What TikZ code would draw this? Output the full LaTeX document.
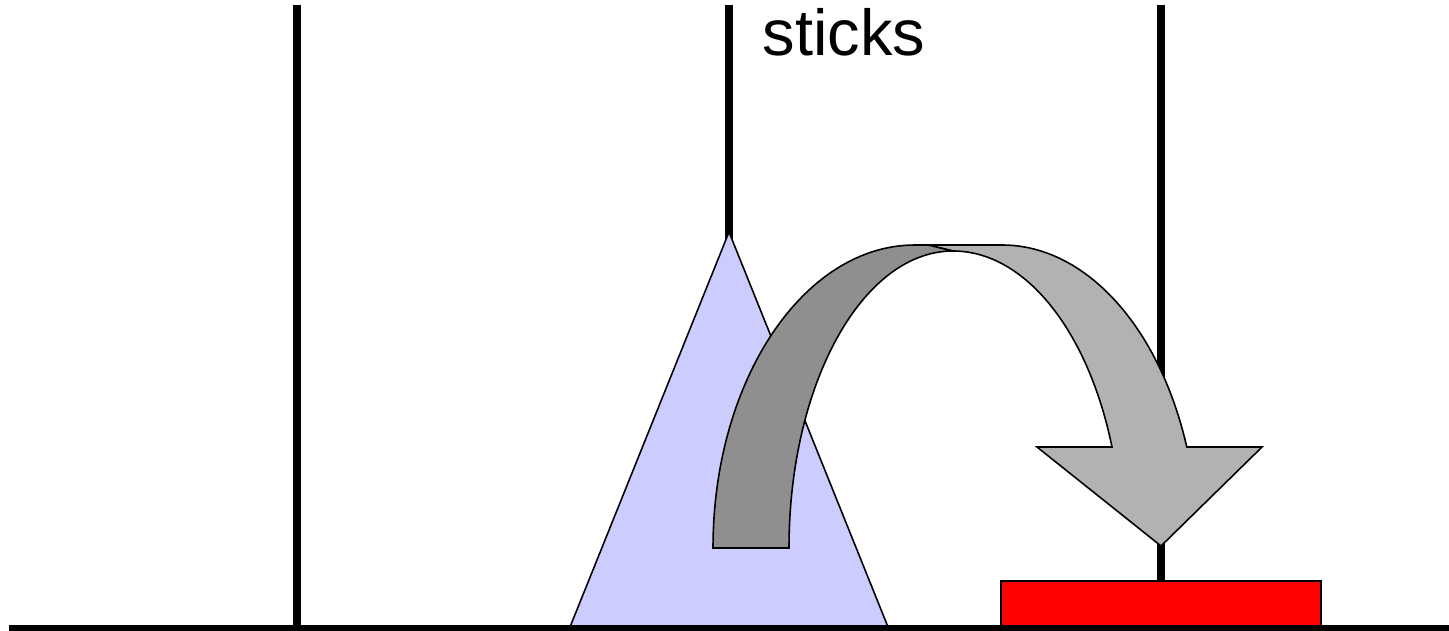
\documentclass[tikz,border=0pt]{standalone}
\usepackage{fontspec}
\setmainfont{Liberation Sans}
\usepackage{xcolor}
\definecolor{lilac}{HTML}{CCCCFF}
\definecolor{backgray}{HTML}{8F8F8F}
\definecolor{frontgray}{HTML}{B2B2B2}

\begin{document}
\begin{tikzpicture}[x=0.02cm,y=0.02cm]
\useasboundingbox (0,0) rectangle (1449,630);

% Define the stick positions
\coordinate (P1) at (297,0);
\coordinate (P2) at (729,0);
\coordinate (P3) at (1161,0);

% Draw the three sticks
\foreach \p in {P1,P2,P3} {
  \draw[line width=4.5pt] (\p) ++(0,2) -- ++(0,623);
}
\node[anchor=base,font=\fontsize{37}{40}\selectfont] (title) at (844,574) {sticks};

% Disk on the middle stick and disk on the right one
\draw[fill=lilac,line width=0.9pt] (729,398) -- (570,3) -- (888,3) -- cycle;
\draw[fill=red,line width=0.9pt] (1001,3) rectangle (1321,49);
% Draw the ground
\draw[line width=4.5pt] (9,1) -- (1449,1);

% Curved arrow: light front part first
\draw[fill=frontgray,line width=0.9pt,line join=miter]
  (928,385) -- (1002,385)
  arc[start angle=90,end angle=19.47,x radius=196,y radius=303]
  -- (1262,183) -- (1161,84) -- (1037,183) -- (1112,183)
  arc[start angle=19.88,end angle=90,x radius=169,y radius=297]
  -- cycle;
% then the dark back part
\draw[fill=backgray,line width=0.9pt,line join=miter]
  (713,82) arc[start angle=180,end angle=90,x radius=202,y radius=303]
  -- (928,385) -- (953,379)
  arc[start angle=90,end angle=180,x radius=164,y radius=297]
  -- cycle;

\end{tikzpicture}
\end{document}
